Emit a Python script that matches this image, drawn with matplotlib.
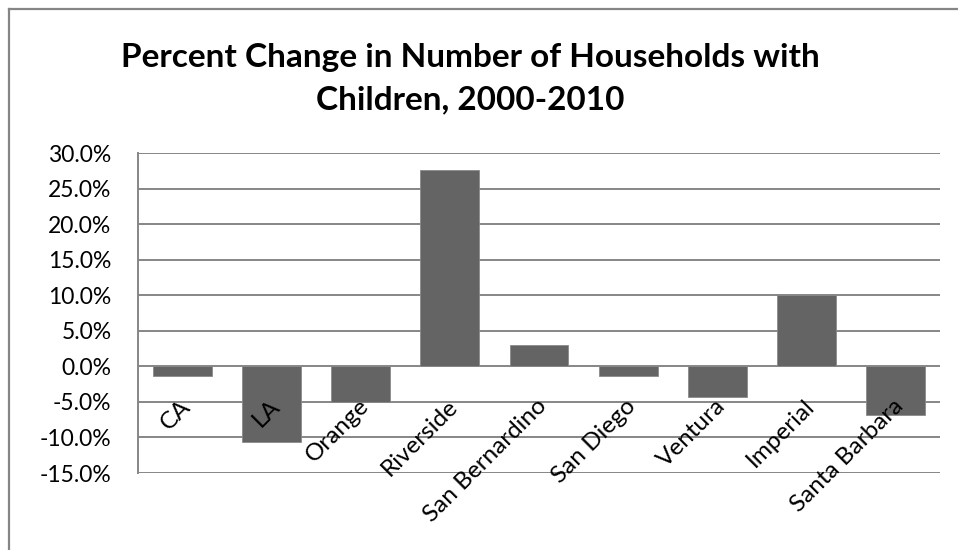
import matplotlib.pyplot as plt
from matplotlib.lines import Line2D
from matplotlib.ticker import FuncFormatter

plt.rcParams['font.family'] = ['Lato', 'DejaVu Sans']

counties = ["CA", "LA", "Orange", "Riverside", "San Bernardino",
            "San Diego", "Ventura", "Imperial", "Santa Barbara"]
pct_change = [-1.4, -10.6, -5.0, 27.6, 3.0, -1.4, -4.3, 10.1, -6.9]

fig = plt.figure(figsize=(9.58, 5.5), dpi=100)
ax = fig.add_axes([138/958, 1-473/550, (940-138)/958, (473-153)/550])

# chart frame (only left and top edges visible)
fx, fy = 9/958, 1-8.5/550
fig.add_artist(Line2D([fx, 1.0], [fy, fy], transform=fig.transFigure,
                      color="#858585", linewidth=1.6, clip_on=False))
fig.add_artist(Line2D([fx, fx], [0.0, fy], transform=fig.transFigure,
                      color="#858585", linewidth=1.6, clip_on=False))

x = range(len(counties))
ax.bar(x, pct_change, width=0.66, color="#646464", edgecolor="#8a8a8a",
       linewidth=0.6, zorder=3)

ax.set_xlim(-0.5, len(counties)-0.5)
ax.set_ylim(-15, 30)
ax.set_yticks(range(-15, 31, 5))
ax.yaxis.set_major_formatter(FuncFormatter(lambda v, p: f"{v:.1f}%"))
ax.tick_params(axis='y', length=0, labelsize=16.5, pad=19, colors="black")
ax.set_xticks([])
ax.grid(axis='y', color="#868686", linewidth=1.4, zorder=1)
for s in ["top", "right", "bottom"]:
    ax.spines[s].set_visible(False)
ax.spines["left"].set_color("#868686")
ax.spines["left"].set_linewidth(1.4)

for i, name in enumerate(counties):
    ax.annotate(name, xy=(i, 0), xytext=(-2, -21), textcoords="offset points",
                rotation=45, ha="right", va="top", rotation_mode="anchor",
                fontsize=17.5, zorder=4)

fig.text(470/958, 1-57/550, "Percent Change in Number of Households with",
         ha="center", va="center", fontsize=24, fontweight="bold")
fig.text(470/958, 1-100/550, "Children, 2000-2010",
         ha="center", va="center", fontsize=24, fontweight="bold")

fig.savefig("out.png", dpi=100)
